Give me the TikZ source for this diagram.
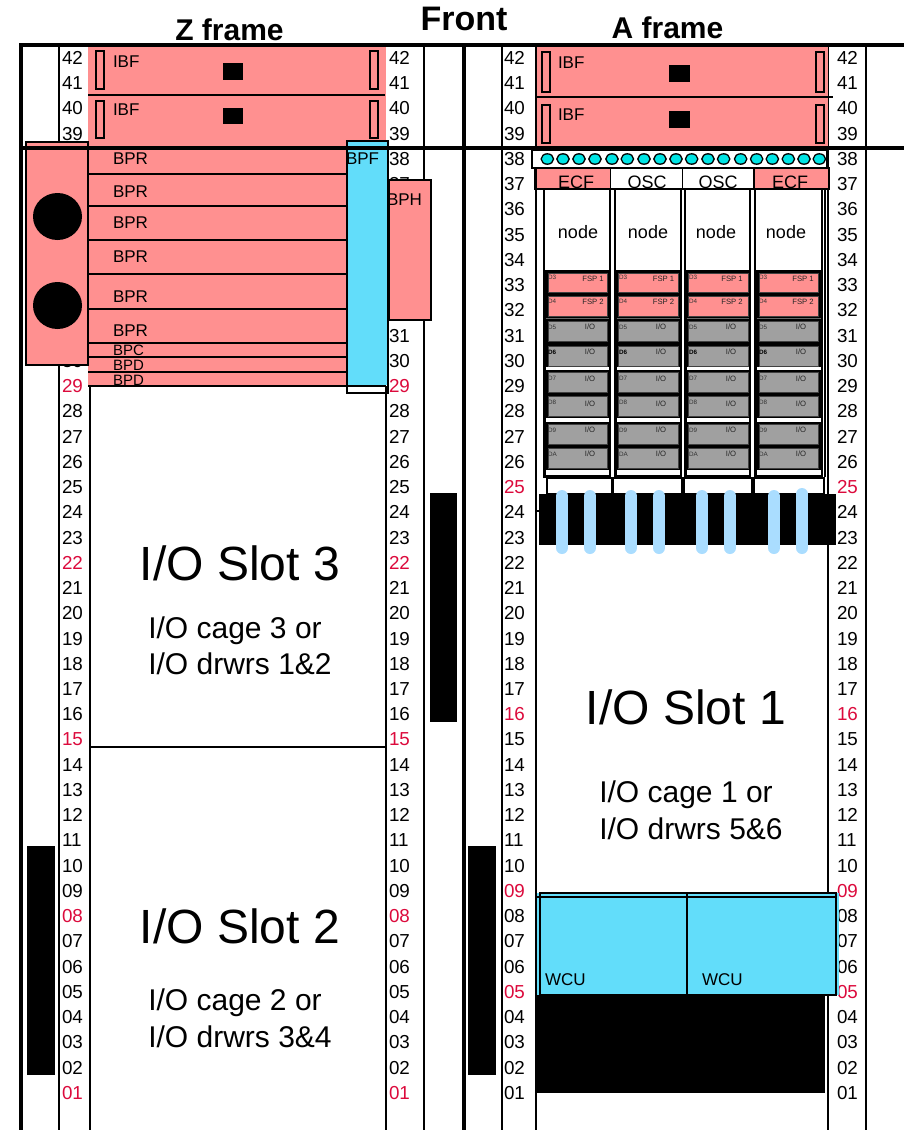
\documentclass[tikz,border=0pt]{standalone}
\usepackage{fontspec}
\setmainfont{Liberation Sans}
\definecolor{pinkfill}{HTML}{FF9090}
\definecolor{cyanfill}{HTML}{62DDFA}
\definecolor{dotfill}{HTML}{00E4E4}
\definecolor{capsule}{HTML}{AADDFF}
\definecolor{rednum}{HTML}{DC0A3C}
\definecolor{cardgray}{HTML}{A0A0A0}
\tikzset{
  txt/.style={inner sep=0pt,outer sep=0pt},
  num/.style={txt,anchor=west,font=\fontsize{18.8}{20}\selectfont},
  lab/.style={txt,anchor=west,font=\fontsize{17}{19}\selectfont},
  small/.style={txt,anchor=west,font=\fontsize{15}{16}\selectfont},
  big/.style={txt,font=\fontsize{48}{50}\selectfont},
  mid/.style={txt,font=\fontsize{30}{32}\selectfont},
  title/.style={txt,font=\fontsize{30}{32}\selectfont\bfseries},
  rowtxt/.style={txt,font=\fontsize{18}{20}\selectfont},
  tinyl/.style={txt,anchor=west,text=black!80,font=\fontsize{6.3}{7}\selectfont},
  tinyr/.style={txt,text=black!85,font=\fontsize{7.7}{9}\selectfont},
  rail/.style={draw=black,line width=2pt},
  frame/.style={draw=black,line width=4pt},
  box/.style={draw=black,line width=2.5pt},
  thin box/.style={draw=black,line width=1.8pt},
  solid black/.style={fill=black},
  card/.style={draw=black!75,line width=.8pt},
  dot/.style={fill=dotfill,draw=black,line width=1.3pt},
  tube/.style={draw=capsule,line width=12pt,line cap=round},
}
\begin{document}
\begin{tikzpicture}[x=1pt,y=-1pt]
\useasboundingbox (0,0) rectangle (904,1130);
\fill[white] (0,0) rectangle (904,1130);
% thin rails
\foreach \x in {59,424,502,536,828,866}{\draw[rail] (\x,45) -- (\x,1130);}
\draw[rail] (90,386) -- (90,1130);
\draw[rail] (386,386) -- (386,1130);
% numbers: those that the reference hides behind boxes are not set
\foreach \xx/\p/\lo/\hi in {62/zl/31/38,389/zr/32/36}{
 \foreach \n in {1,...,42}{
  \pgfmathsetmacro\yy{58+(42-\n)*25.24}
  \pgfmathtruncatemacro\mm{mod(\n,7)}
  \ifnum\mm=1 \def\cc{rednum}\else\def\cc{black}\fi
  \pgfmathtruncatemacro\hidden{(\n>=\lo)&&(\n<=\hi)}
  \ifnum\hidden=0
  \node[num,text=\cc] (\p\n) at (\xx,\yy) {\ifnum\n<10 0\fi\n};
  \fi
 }}
\foreach \xx/\p in {504/al,837/ar}{
 \foreach \n in {1,...,42}{
  \pgfmathsetmacro\yy{58+(42-\n)*25.24}
  \def\cc{black}
  \ifnum\n=5 \def\cc{rednum}\fi
  \ifnum\n=9 \def\cc{rednum}\fi
  \ifnum\n=16 \def\cc{rednum}\fi
  \ifnum\n=25 \def\cc{rednum}\fi
  \node[num,text=\cc] (\p\n) at (\xx,\yy) {\ifnum\n<10 0\fi\n};
 }}
% titles
\node[title] (ztitle) at (229.5,30) {Z frame};
\node[txt,font=\fontsize{34}{36}\selectfont\bfseries] (front) at (464,19) {Front};
\node[title] (atitle) at (667.5,28) {A frame};
% black bars
\fill[solid black] (27,846) rectangle (55,1075);
\fill[solid black] (468,846) rectangle (496,1075);
\fill[solid black] (430,493) rectangle (457,722);
% Z frame IBF
\fill[pinkfill] (88,46) rectangle (386,148);
\draw[line width=1.8pt] (88,95) -- (385,95);
\foreach \xa/\xb in {96/104,370/378}{
  \draw[thin box] (\xa,51) rectangle (\xb,89);
  \draw[thin box] (\xa,101) rectangle (\xb,138);
}
\fill[solid black] (223,63) rectangle (243,80);
\fill[solid black] (223,108) rectangle (243,124);
\node[lab] (zibf1) at (113,62) {IBF};
\node[lab] (zibf2) at (113,110) {IBF};
% Z frame BP rows
\fill[pinkfill] (88,148) rectangle (347,386);
\foreach \y in {174,206,240,274,309,343,357,372,386}{\draw[line width=1.8pt] (88,\y) -- (347,\y);}
\draw[line width=2pt] (90,386) -- (386,386);
\node[lab] (bpr1) at (113,159) {BPR};
\node[lab] (bpr2) at (113,192) {BPR};
\node[lab] (bpr3) at (113,223) {BPR};
\node[lab] (bpr4) at (113,257) {BPR};
\node[lab] (bpr5) at (113,297) {BPR};
\node[lab] (bpr6) at (113,331) {BPR};
\node[small] (bpc) at (113,350) {BPC};
\node[small] (bpd1) at (113,365) {BPD};
\node[small] (bpd2) at (113,380) {BPD};
% BPH
\fill[pinkfill] (389,180) rectangle (431,320);
\draw[box] (389,180) rectangle (431,320);
\node[lab] (bph) at (387,200) {BPH};
% BPF
\fill[cyanfill] (348,142) rectangle (387,385);
\draw[box] (347,141) rectangle (388,393);
\draw[line width=2pt] (347,386) -- (386,386);
\node[lab] (bpf) at (346,159) {BPF};
% left box
\fill[pinkfill] (26,142) rectangle (88,365);
\draw[box] (26,142) rectangle (88,365);
\fill[black] (57.5,216.5) ellipse [x radius=24.5,y radius=23.5];
\fill[black] (57.5,305.5) ellipse [x radius=24.5,y radius=23.5];
% Z lower
\draw[box] (90,747) -- (386,747);
\node[big] (slot3) at (240,563) {I/O Slot 3};
\node[mid] (cage3) at (235,631) {I/O cage 3 or};
\node[mid] (drw12) at (240,664) {I/O drwrs 1\&2};
\node[big] (slot2) at (240,926) {I/O Slot 2};
\node[mid] (cage2) at (235,1003) {I/O cage 2 or};
\node[mid] (drw34) at (240,1037) {I/O drwrs 3\&4};
% A frame IBF
\fill[pinkfill] (537,46) rectangle (828,147);
\draw[line width=1.8pt] (537,97) -- (833,97);
\foreach \xa/\xb in {542/550,816/824}{
  \draw[thin box] (\xa,52) rectangle (\xb,92);
  \draw[thin box] (\xa,105) rectangle (\xb,143);
}
\fill[solid black] (669,65) rectangle (690,82);
\fill[solid black] (669,111) rectangle (690,128);
\node[lab] (aibf1) at (558,63) {IBF};
\node[lab] (aibf2) at (558,115) {IBF};
% row 38 with dots
\fill[white] (533,150) rectangle (827,168);
\draw[line width=1.5pt] (532,150) rectangle (827,168);
\foreach \z in {172,219,267,315,366,412,462,510,558,605,654,701,752,800,847,895,942,988}{
  \pgfmathsetmacro\dx{490+\z/3}
  \path[dot] (\dx,159) ellipse [x radius=6.2,y radius=5.2];
}
% ECF / OSC row
\fill[pinkfill] (537,168) rectangle (610,189);
\fill[white] (612,168) rectangle (682,189);
\fill[white] (683,168) rectangle (753,189);
\fill[pinkfill] (755,168) rectangle (829,189);
\draw[box] (535,168) rectangle (829,189);
\draw[line width=1.5pt] (610.5,168) -- (610.5,189);
\draw[line width=1.5pt] (682.5,168) -- (682.5,189);
\draw[line width=1.5pt] (754,168) -- (754,189);
\node[rowtxt] (ecf1) at (576,182) {ECF};
\node[rowtxt] (osc1) at (647,182) {OSC};
\node[rowtxt] (osc2) at (718,182) {OSC};
\node[rowtxt] (ecf2) at (790,182) {ECF};
% node columns
\draw[line width=2pt] (825,189) -- (825,477);
\foreach \c/\l/\r/\a/\b/\lx/\f/\g/\nx in {
  1/544/610/548/607/548/593/590/578,
  2/615/681/618/678/619/663.5/661/648,
  3/685/750/688/748/689/732/731/716,
  4/755/822/759/818/759/803/801/786}{
  \fill[white] (\l,189) rectangle (\r,270);
  \fill[black] (\l,270) rectangle (\r,477);
  \draw[line width=2.5pt] (\l,189) rectangle (\r,477);
  \fill[white] (\l+1.5,367) rectangle (\r-1.5,370);
  \fill[white] (\l+1.5,418) rectangle (\r-1.5,422);
  \fill[white] (\l+1.5,470) rectangle (\r-1.5,475);
  \draw[black!60,line width=.6pt] (\l+1.5,318.5) -- (\r-1.5,318.5);
  \node[rowtxt] (node\c) at (\nx,232) {node};
  \foreach \nm/\t/\bb/\ly/\ty in {D5/321/341/327/327,D7/372/392/378/379,D8/396/416/402/404,D9/424/444/430/430,DA/448/468/454/454}{
    \path[fill=cardgray,card] (\a,\t) rectangle (\b,\bb);
    \node[tinyl] (lab\nm\c) at (\lx,\ly) {\nm};
    \node[tinyr] (io\nm\c) at (\g,\ty) {I/O};
  }
  \path[fill=cardgray,card] (\a,346) rectangle (\b,366);
  \node[tinyl,text=black,font=\fontsize{6.3}{7}\selectfont\bfseries] (labD6\c) at (\lx,352) {D6};
  \node[tinyr] (ioD6\c) at (\g,352) {I/O};
  \path[fill=pinkfill,card] (\a,273) rectangle (\b,292);
  \path[fill=pinkfill,card] (\a,296) rectangle (\b,316);
  \node[tinyl] (labD3\c) at (\lx,277) {D3};
  \node[tinyl] (labD4\c) at (\lx,301) {D4};
  \node[tinyr] (fspa\c) at (\f,279) {FSP 1};
  \node[tinyr] (fspb\c) at (\f,302) {FSP 2};
}
% row 25 boxes
\foreach \a/\b in {547/612,613/682,684/752,754/824}{\draw[line width=1.3pt] (\a,478) rectangle (\b,494);}
% black band and capsules
\draw[line width=1.5pt] (535,511) -- (541,511);
\fill[solid black] (539,494) rectangle (836,545);
\foreach \x/\t in {562/496,590/496,631/496,659/496,702/496,730/496,774/496,802/494}{
  \draw[tube] (\x,\t) -- (\x,548);
}
% WCU
\fill[cyanfill] (537,893) rectangle (839,995);
\draw[line width=2pt] (540,893) rectangle (836,995);
\draw[line width=2pt] (537,897) -- (836,897);
\draw[line width=2pt] (687,893) -- (687,995);
\node[lab] (wcu1) at (545,980) {WCU};
\node[lab] (wcu2) at (702,980) {WCU};
\fill[solid black] (537,995) rectangle (825,1093);
\node[big] (slot1) at (686,707) {I/O Slot 1};
\node[mid] (cage1) at (686,795) {I/O cage 1 or};
\node[mid] (drw56) at (691,829) {I/O drwrs 5\&6};
% frame
\draw[frame] (19,45) -- (904,45);
\draw[frame] (22,148) -- (904,148);
\draw[frame] (21,43) -- (21,1130);
\draw[frame] (464,43) -- (464,1130);
\end{tikzpicture}
\end{document}
